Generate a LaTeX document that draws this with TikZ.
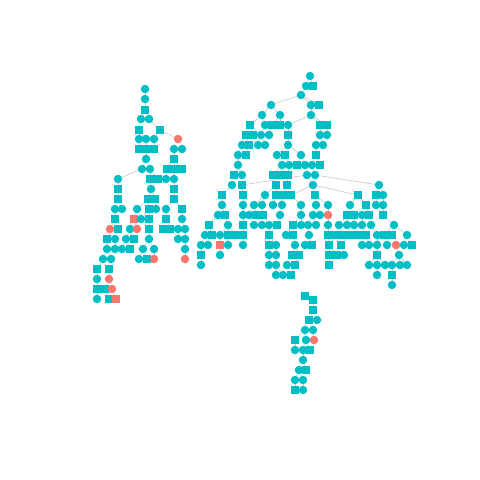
\documentclass[tikz,border=0pt]{standalone}
\usetikzlibrary{backgrounds}
\definecolor{turquesa}{HTML}{00BFC4}
\definecolor{salmao}{HTML}{F8766D}
% x/y/estilo/pai
\def\arvore{
 % arvore da esquerda
 145/99/circ/145/89, 145/110/quad/145/99,
 141/119/circ/145/110, 149/119/circ/145/110,
 139/130/quad/141/119, 160/130/quad/149/119,
 139/139/circ/139/130, 146/139/circ/139/130, 154/139/circ/160/130, 178/139/circr/160/130,
 139/149/quad/139/139, 146/149/quad/146/139, 154/149/quad/154/139, 174/149/circ/178/139, 182/149/circ/178/139,
 146/159/circ/146/149, 174/159/quad/174/149,
 142/169/circ/146/159, 150/169/circ/146/159, 167/169/quad/174/159, 174/169/quad/174/159, 182/169/quad/174/159,
 118/179/circ/142/169, 150/179/quad/150/169, 158/179/quad/150/169, 166/179/circ/167/169, 174/179/circ/174/169,
 118/189/quad/118/179, 151/189/circ/150/179, 174/189/quad/174/179,
 118/199/quad/118/189, 148/199/quad/151/189, 155/199/quad/151/189, 174/199/quad/174/189,
 115/209/circ/118/199, 122/209/circ/118/199, 137/209/circ/148/199, 149/209/quad/148/199,
 156/209/circ/155/199, 166/209/circ/174/199, 182/209/quad/174/199,
 115/219/quad/115/209, 134/219/quadr/137/209, 141/219/circ/137/209, 149/219/quad/149/209,
 166/219/quad/166/209, 182/219/circ/182/209,
 110/229/circr/115/219, 118/229/quad/115/219, 130/229/circ/134/219, 137/229/circr/134/219,
 149/229/quad/149/219, 163/229/quad/166/219, 170/229/quad/166/219, 178/229/circ/182/219, 185/229/circ/182/219,
 107/239/quad/110/229, 115/239/circ/118/229, 126/239/circ/130/229, 134/239/quad/130/229,
 149/239/circ/149/229, 178/239/circ/178/229, 185/239/circ/185/229,
 107/249/circ/107/239, 115/249/circ/115/239, 122/249/circ/126/239, 130/249/quad/126/239,
 143/249/circ/149/239, 154/249/circ/149/239, 185/249/circ/185/239,
 103/259/circ/107/249, 111/259/circ/107/249, 139/259/circ/143/249, 147/259/quad/143/249,
 154/259/circr/154/249, 185/259/circr/185/249,
 97/269/quad/103/259, 109/269/quad/111/259,
 97/279/circ/97/269, 109/279/circr/109/269,
 97/289/quad/97/279, 105/289/quad/109/279, 112/289/circr/109/279,
 97/299/circ/97/289, 109/299/quad/105/289, 116/299/quadr/112/289,
 % arvore do meio
 306/86/circ/310/76, 313/86/quad/310/76,
 301/95/circ/306/86,
 271/105/circ/301/95, 311/105/circ/301/95, 319/105/quad/301/95,
 262/115/circ/271/105, 280/115/circ/271/105, 311/115/circ/311/105,
 250/125/quad/262/115, 265/125/circ/262/115, 272/125/quad/280/115, 280/125/quad/280/115,
 288/125/circ/311/115, 320/125/quad/311/115, 327/125/quad/311/115,
 246/135/quad/250/125, 253/135/quad/250/125, 261/135/circ/265/125, 269/135/circ/272/125,
 288/135/quad/288/125, 320/135/circ/320/125, 327/135/circ/327/125,
 242/145/circ/246/135, 249/145/quad/246/135, 258/145/circ/261/135, 265/145/circ/261/135,
 288/145/circ/288/135, 316/145/circ/320/135, 323/145/circ/320/135,
 238/155/circ/242/145, 246/155/quad/249/145, 277/155/circ/288/145, 285/155/quad/288/145,
 301/155/circ/288/145, 316/155/quad/316/145,
 238/165/circ/238/155, 282/165/circ/277/155, 289/165/circ/285/155, 297/165/quad/301/155,
 305/165/circ/301/155, 312/165/circ/316/155, 320/165/quad/316/155,
 234/175/quad/238/165, 242/175/circ/238/165, 273/175/quad/282/165, 281/175/quad/282/165,
 288/175/quad/289/165, 307/175/circ/305/165, 315/175/circ/312/165,
 232/185/circ/234/175, 242/185/quad/307/175, 276/185/quad/273/175, 287/185/quad/288/175,
 313/185/circ/307/175, 379/185/circ/315/175,
 222/195/quad/232/185, 243/195/quad/242/185, 265/195/circ/276/185, 276/195/quad/276/185,
 283/195/quad/287/185, 291/195/quad/313/185, 315/195/quad/313/185, 358/195/quad/313/185,
 376/195/quad/379/185, 383/195/circ/379/185,
 222/205/circ/222/195, 243/205/circ/243/195, 254/205/circ/265/195, 262/205/circ/265/195,
 273/205/circ/276/195, 282/205/circ/283/195, 301/205/circ/291/195, 316/205/circ/315/195,
 328/205/circ/315/195, 350/205/circ/358/195, 366/205/quad/358/195, 376/205/circ/376/195,
 383/205/circ/383/195,
 218/215/circ/222/205, 225/215/quad/222/205, 243/215/circ/243/205, 249/215/circ/254/205,
 256/215/quad/254/205, 263/215/quad/262/205, 280/215/circ/282/205, 301/215/circ/301/205,
 313/215/circ/316/205, 320/215/circ/316/205, 328/215/circr/328/205, 347/215/quad/350/205,
 354/215/quad/350/205, 362/215/circ/366/205, 369/215/quad/366/205, 383/215/quad/383/205,
 209/225/quad/218/215, 228/225/circ/225/215, 243/225/quad/243/215, 254/225/circ/249/215,
 262/225/circ/256/215, 269/225/circ/263/215, 277/225/quad/280/215, 293/225/quad/301/215,
 301/225/circ/301/215, 308/225/circ/313/215, 316/225/circ/313/215, 328/225/circ/328/215,
 339/225/circ/347/215, 347/225/circ/347/215, 354/225/circ/354/215, 362/225/circ/362/215,
 371/225/circ/369/215, 394/225/circ/383/215,
 205/235/circ/209/225, 212/235/quad/209/225, 220/235/circ/228/225, 228/235/quad/228/225,
 236/235/quad/228/225, 243/235/quad/243/225, 269/235/quad/269/225, 286/235/circ/293/225,
 293/235/quad/293/225, 309/235/circ/308/225, 328/235/quad/328/225, 336/235/quad/339/225,
 343/235/quad/339/225, 351/235/quad/347/225, 358/235/quad/354/225, 366/235/quad/362/225,
 377/235/circ/371/225, 384/235/quad/394/225, 392/235/quad/394/225, 407/235/circ/394/225,
 201/245/circ/205/235, 208/245/circ/205/235, 220/245/quadr/220/235, 228/245/circ/228/235,
 243/245/circ/243/235, 269/245/quad/269/235, 276/245/circ/269/235, 295/245/circ/293/235,
 305/245/circ/309/235, 312/245/quad/309/235, 329/245/quad/328/235, 341/245/quad/343/235,
 362/245/circ/366/235, 369/245/circ/366/235, 377/245/circ/377/235, 387/245/circ/384/235,
 396/245/circr/392/235, 404/245/circ/407/235, 412/245/quad/407/235,
 201/255/quad/201/245, 220/255/circ/220/245, 269/255/circ/269/245, 276/255/circ/276/245,
 292/255/quad/295/245, 299/255/quad/295/245, 329/255/quad/329/245, 337/255/quad/329/245,
 344/255/circ/341/245, 377/255/quad/377/245, 399/255/circ/396/245,
 201/265/circ/201/255, 269/265/circ/269/255, 276/265/circ/276/255, 287/265/circ/292/255,
 295/265/quad/299/255, 329/265/quad/329/255, 369/265/circ/377/255, 377/265/circ/377/255,
 385/265/circ/377/255, 392/265/circ/399/255, 400/265/circ/399/255, 407/265/circ/399/255,
 276/275/circ/276/265, 283/275/circ/276/265, 291/275/quad/295/265, 377/275/circ/377/265,
 392/275/quad/392/265,
 392/285/circ/392/275,
 % ramo de baixo
 313/300/quad/305/296, 313/310/quad/313/300,
 309/320/quad/313/310, 317/320/circ/313/310,
 305/330/circ/309/320, 313/330/circ/309/320,
 295/340/quad/305/330, 306/340/circ/305/330, 314/340/circr/313/330,
 295/350/circ/295/340, 303/350/circ/306/340, 310/350/quad/306/340,
 303/360/circ/303/350,
 299/370/circ/303/360, 306/370/quad/303/360,
 295/380/circ/299/370, 303/380/circ/299/370,
 295/390/quad/295/380, 303/390/circ/303/380%
}
\begin{document}
\begin{tikzpicture}[x=1pt,y=-1pt]
\tikzset{
    aresta/.style={-, line width=0.6pt, gray!45},
    circ/.style={circle, fill=turquesa, inner sep=0pt, minimum size=8.5pt},
    quad/.style={rectangle, fill=turquesa, inner sep=0pt, minimum size=7.5pt},
    circr/.style={circ, fill=salmao},
    quadr/.style={quad, fill=salmao}
}
\useasboundingbox (0,0) rectangle (480,480);
% raizes
\node[circ] (v145-89)  at (145,89)  {};
\node[circ] (v310-76)  at (310,76)  {};
\node[quad] (v305-296) at (305,296) {};
\foreach \x/\y/\k/\px/\py in \arvore
  \node[\k] (v\x-\y) at (\x,\y) {};
\begin{pgfonlayer}{background}
  \foreach \x/\y/\k/\px/\py in \arvore
    \draw[aresta] (v\px-\py) -- (v\x-\y);
\end{pgfonlayer}
\end{tikzpicture}
\end{document}
